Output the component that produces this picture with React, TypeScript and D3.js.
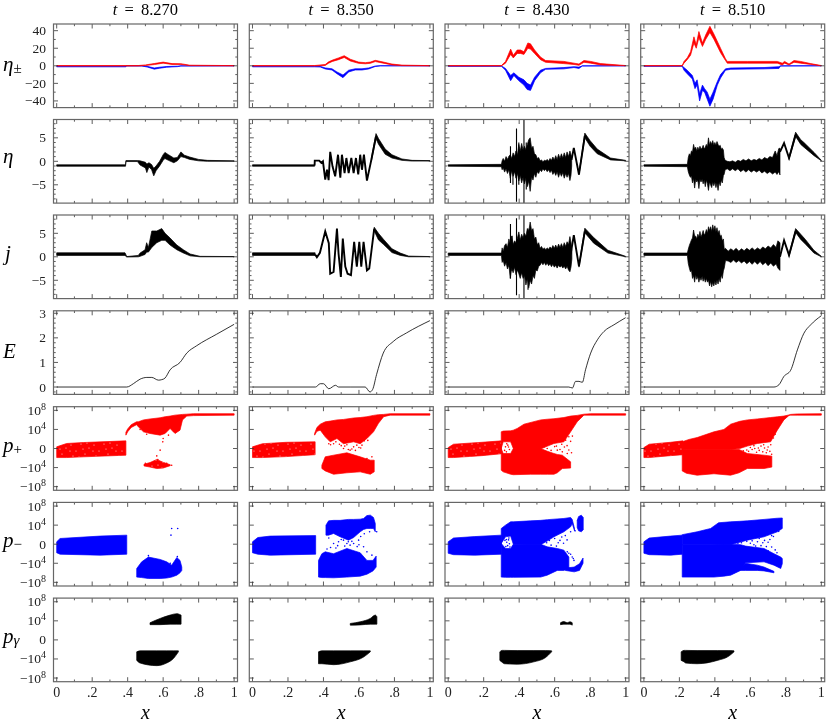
import React, { useEffect, useRef } from 'react';
import * as d3 from 'd3';

type Band = [number, number, number][];
type Pt = [number, number][];

const times = ['8.270', '8.350', '8.430', '8.510'];
const xMajor = [0, 0.2, 0.4, 0.6, 0.8, 1];
const xMinor = [0.1, 0.3, 0.5, 0.7, 0.9];
const xLabels = ['0', '.2', '.4', '.6', '.8', '1'];

// eta+- : [x, low, high]
const plus0: Band = [[0, -0.2, 0.3], [0.46, -0.2, 0.3], [0.5, 0.3, 1], [0.55, 1.4, 2.6], [0.6, 3, 4.2], [0.65, 1.5, 2.5], [0.7, 1.5, 2.4], [0.75, 0.2, 0.7], [1, -0.1, 0.2]];
const minus0: Band = [[0, -1.2, -0.6], [0.39, -1.2, -0.6], [0.392, -0.2, 0], [0.48, -0.2, 0], [0.51, -1.4, -0.6], [0.55, -3.8, -2.5], [0.58, -2.8, -1.6], [0.62, -1.6, -0.8], [0.68, -1, -0.4], [0.7, -0.3, 0], [1, -0.1, 0.1]];
const plus1: Band = [[0, -0.2, 0.3], [0.35, -0.2, 0.3], [0.41, 0.4, 1.5], [0.429, 3, 4.5], [0.451, 5, 6.5], [0.485, 7, 9], [0.517, 9.5, 11.5], [0.551, 5.5, 7.5], [0.598, 2.8, 4.2], [0.636, 2.3, 3.6], [0.664, 2.8, 4.2], [0.692, 4.8, 6.2], [0.73, 3.3, 4.6], [0.786, 1, 2], [0.842, 0.2, 0.8], [1, -0.1, 0.2]];
const minus1: Band = [[0, -1.2, -0.5], [0.35, -1.2, -0.5], [0.382, -1.4, -0.6], [0.41, -3.6, -2.4], [0.448, -4.8, -3.4], [0.476, -9, -7], [0.51, -13.5, -10.5], [0.542, -7, -5], [0.579, -4.8, -3.4], [0.617, -4.8, -3.4], [0.655, -3.6, -2.4], [0.692, -0.8, -0.2], [0.72, -0.1, 0.1], [1, -0.1, 0.1]];
const plus2: Band = [[0, -0.1, 0.2], [0.3, -0.1, 0.2], [0.323, 3, 5], [0.352, 13, 19], [0.367, 9, 12], [0.389, 14, 18], [0.408, 14, 18], [0.427, 13, 16], [0.449, 20, 26], [0.464, 19, 25], [0.487, 14, 18], [0.52, 7, 10], [0.549, 4, 6], [0.652, 2.5, 5], [0.709, 1.5, 3], [0.737, 0.5, 2], [0.765, 4, 6], [0.803, 3, 5], [0.859, 1, 2.5], [1, 0, 0.3]];
const minus2: Band = [[0, -0.5, -0.2], [0.3, -0.5, -0.2], [0.323, -5, -3], [0.352, -17, -11], [0.37, -11, -8], [0.398, -17, -13], [0.427, -22, -16], [0.445, -27, -20], [0.464, -28, -22], [0.487, -17, -13], [0.52, -8, -5], [0.549, -4, -3], [0.652, -3.5, -2], [0.709, -2, -1], [0.737, -3, -1.5], [0.756, -0.3, 0], [1, -0.1, 0.1]];
const plus3: Band = [[0, -0.1, 0.2], [0.216, -0.1, 0.2], [0.226, 3, 5], [0.244, 7, 9], [0.263, 12, 16], [0.282, 26, 33], [0.295, 20, 24], [0.31, 32, 39], [0.33, 22, 26], [0.348, 30, 35], [0.372, 38, 45], [0.395, 30, 36], [0.432, 15, 20], [0.46, 6, 8], [0.47, 3, 5], [0.583, 3, 5], [0.752, 3, 5], [0.78, 1, 3], [0.793, 3, 5], [0.818, 1, 2], [0.846, 4, 6], [0.883, 3, 5], [0.94, 1.5, 2.5], [1, 0, 0.3]];
const minus3: Band = [[0, -0.5, -0.2], [0.216, -0.5, -0.2], [0.226, -5, -2], [0.244, -9, -5], [0.273, -15, -11], [0.288, -26, -20], [0.3, -22, -16], [0.314, -40, -32], [0.33, -28, -22], [0.342, -30, -26], [0.357, -38, -30], [0.372, -46, -38], [0.39, -38, -30], [0.414, -22, -18], [0.432, -14, -10], [0.46, -5, -3.5], [0.49, -4, -2.5], [0.677, -3.5, -2], [0.761, -3, -1], [0.77, -0.3, 0], [1, -0.1, 0.1]];

// eta
const etaBand0: Band = [[0, -1.05, -0.75], [0.388, -1.05, -0.75], [0.39, -0.05, 0.15], [0.455, -0.05, 0.15], [0.47, -0.8, 0.1], [0.5, -1.4, -0.2], [0.508, -2.4, -0.6], [0.52, -1.2, -0.3], [0.535, -1.8, -0.7], [0.547, -3.1, -1.5], [0.56, -2, -1], [0.58, -1, 0], [0.6, 0.2, 1.4], [0.61, 0.6, 1.9], [0.63, 0.2, 1.4], [0.66, -0.3, 0.7], [0.68, 0.1, 0.8], [0.7, 1, 2], [0.72, 0.8, 1.3], [0.75, 0.4, 0.9], [0.8, 0.1, 0.4], [0.85, 0, 0.2], [1, 0, 0.1]];
const etaBase1: Band = [[0, -1.05, -0.75], [0.35, -1.05, -0.75]];
const etaLine1: Pt = [[0.35, -0.9], [0.351, 0.14], [0.376, 0.14], [0.388, -0.35], [0.397, 0], [0.41, -3.9], [0.42, -1.8], [0.429, -4], [0.438, 2], [0.451, -1.06], [0.466, -3.2], [0.482, 1.4], [0.495, -3.5], [0.504, 1.4], [0.519, -2.5], [0.529, 0.7], [0.542, -2.5], [0.557, 0.7], [0.57, -2.5], [0.583, 0.7], [0.596, -2.8], [0.607, 1.4], [0.617, -1.8], [0.628, 1.4], [0.645, -4.1], [0.67, 0.35], [0.696, 5.3]];
const etaTail1: Band = [[0.67, 0, 0.7], [0.696, 4.8, 5.9], [0.711, 3.6, 4.8], [0.748, 1.5, 2.6], [0.786, 0.7, 1.4], [0.842, 0.2, 0.5], [0.9, 0.05, 0.2], [1, 0.05, 0.15]];
const etaBand2: Band = [[0, -1.05, -0.75], [0.3, -1.15, -0.65], [0.304, -1.8, 0.1], [0.31, -1.4, 0.6], [0.318, -2.3, 0], [0.326, -1.6, 1], [0.334, -2.6, 0.4], [0.342, -1.8, 1.1], [0.35, -3.6, 1.4], [0.358, -2, 0.6], [0.366, -3.2, 1.8], [0.374, -2.2, 1], [0.382, -3.6, 2.2], [0.39, -2.6, 1.4], [0.398, -4.2, 3.6], [0.406, -3, 2.2], [0.414, -4.6, 3.8], [0.422, -3.4, 2.4], [0.43, -4.8, 3.2], [0.438, -3.6, 2.4], [0.446, -5.4, 3.6], [0.454, -4.2, 4.6], [0.462, -6.4, 5], [0.47, -3.4, 2.8], [0.478, -4, 3.2], [0.486, -2.6, 1.6], [0.494, -3.4, 1.4], [0.502, -2.2, 0.6], [0.51, -2.6, 0.8], [0.518, -1.8, 0.1], [0.526, -2.2, 0.3], [0.534, -1.6, -0.1], [0.542, -2, 0.2], [0.55, -1.7, 0.1], [0.558, -2.2, 0.4], [0.566, -1.8, 0], [0.574, -2.4, 0.6], [0.582, -1.9, 0.2], [0.59, -2.8, 0.9], [0.598, -2.2, 0.3], [0.606, -3, 1.2], [0.614, -2.2, 0.4], [0.622, -3.4, 1.5], [0.63, -2.4, 0.6], [0.638, -3.2, 1.6], [0.646, -2.4, 0.7], [0.654, -3.6, 1.8], [0.662, -2.6, 0.8], [0.67, -3.4, 2], [0.678, -2.6, 1], [0.686, -4.1, 2.2], [0.692, -3, 1.4], [0.696, -1, 1]];
const etaSpikes2: Band = [[0.351, -4.6, 3.2], [0.365, -5, 1], [0.385, -8.6, 7], [0.398, -5, 4], [0.427, -8.9, 8.9], [0.44, -6, 4]];
const etaLine2: Pt = [[0.695, 0.3], [0.708, 2.85], [0.737, -2.8], [0.77, 5.4]];
const etaTail2: Band = [[0.737, -2.9, -2.5], [0.77, 5, 6], [0.8, 3.2, 4.4], [0.84, 1.6, 2.6], [0.915, 0.3, 0.7], [1, 0.1, 0.2]];
const etaBand3: Band = [[0, -1.05, -0.75], [0.245, -1.15, -0.65], [0.25, -2.2, 0.8], [0.256, -2.9, 1.6], [0.262, -3.4, 1.2], [0.268, -3.2, 2.2], [0.274, -4.6, 2], [0.28, -3.6, 3.6], [0.286, -5.7, 2.6], [0.292, -3.8, 3], [0.298, -4.4, 2.2], [0.304, -4, 3], [0.31, -5.8, 2.4], [0.316, -3.8, 3.2], [0.322, -4.4, 2.6], [0.328, -3.8, 2.8], [0.334, -4.8, 3.4], [0.34, -4, 2.6], [0.346, -5.4, 3], [0.352, -4, 3.6], [0.358, -4.8, 3], [0.364, -6.2, 5], [0.37, -4.4, 3.4], [0.376, -5, 4.2], [0.382, -5.6, 3.6], [0.388, -4.4, 4.4], [0.394, -5.2, 3.4], [0.4, -4.4, 4], [0.406, -5.6, 3.4], [0.412, -4.6, 4.2], [0.418, -6.2, 3.6], [0.424, -4.4, 3.2], [0.43, -5.2, 3.4], [0.436, -4, 2.6], [0.442, -4.6, 2.8], [0.448, -3, 2.4], [0.452, -2.8, 0.8], [0.458, -1.8, 0.2], [0.47, -1.6, 0], [0.485, -2, -0.1], [0.5, -1.6, 0.1], [0.515, -2, -0.2], [0.53, -1.6, 0.2], [0.545, -2.2, 0], [0.56, -1.8, 0.4], [0.575, -2.3, 0.1], [0.59, -1.8, 0.5], [0.605, -2.3, 0.1], [0.62, -1.9, 0.4], [0.635, -2.3, 0.2], [0.65, -1.9, 0.6], [0.665, -2.5, 0.3], [0.68, -2.1, 0.8], [0.695, -2.6, 0.5], [0.71, -2.2, 1], [0.725, -2.7, 0.8], [0.74, -2.3, 2.2], [0.75, -2.8, 1.2], [0.76, -2.2, 2.7], [0.767, -2.9, 2.8]];
const etaLine3: Pt = [[0.767, 2], [0.79, 3.9], [0.818, 0.7], [0.855, 5.6]];
const etaTail3: Band = [[0.818, 0.4, 0.9], [0.855, 5.3, 6.2], [0.884, 3.6, 4.6], [0.902, 3, 4], [0.959, 1.2, 1.9], [1, 0.1, 0.2]];

// j
const jBand0: Band = [[0, 0.3, 0.85], [0.385, 0.3, 0.85], [0.395, -0.05, 0.05], [0.46, 0, 0.3], [0.47, 0.1, 0.8], [0.498, 0.5, 1.5], [0.507, 1, 3], [0.517, 1, 2], [0.536, 2, 5.5], [0.564, 3, 5.5], [0.592, 3.5, 6], [0.611, 3.5, 5], [0.639, 2.5, 4], [0.677, 1.5, 2.5], [0.714, 0.8, 1.5], [0.752, 0.2, 0.6], [0.808, 0, 0.1], [1, 0, 0.05]];
const jBase1: Band = [[0, 0.3, 0.85], [0.353, 0.3, 0.85]];
const jLine1: Pt = [[0.353, 0.5], [0.363, -0.1], [0.38, 0.85], [0.41, 5.4], [0.43, 2.9], [0.438, -3.6], [0.457, -3.2], [0.476, 6], [0.485, 0.7], [0.498, -4.3], [0.509, 3.9], [0.523, -2.1], [0.536, -3.6], [0.555, -3.9], [0.573, 3.2], [0.588, -2.1], [0.602, 3.2], [0.613, -2.1], [0.626, 3.2], [0.645, -2.9], [0.658, -2.5], [0.686, 6]];
const jTail1: Band = [[0.686, 5.5, 6.3], [0.71, 3.6, 5], [0.739, 2.6, 3.7], [0.786, 0.9, 1.7], [0.833, 0.3, 0.8], [0.88, 0, 0.15], [1, 0, 0.05]];
const jBand2: Band = [[0, 0.3, 0.8], [0.3, 0.3, 0.8], [0.304, -1.2, 1.9], [0.31, -0.8, 1.2], [0.318, -2, 2.4], [0.326, -1.2, 2.8], [0.334, -2.6, 2], [0.342, -1.8, 3.8], [0.35, -4.6, 2.8], [0.358, -2.4, 4.4], [0.366, -3.4, 2.6], [0.374, -2.2, 3.4], [0.382, -3.8, 3], [0.39, -2.8, 4], [0.398, -3.6, 5.3], [0.406, -4.6, 3.6], [0.414, -3.4, 4.8], [0.422, -4.6, 4], [0.43, -4, 5], [0.438, -6, 4.4], [0.446, -4.6, 6], [0.454, -6.6, 5.4], [0.462, -5, 7.4], [0.47, -5.8, 5.6], [0.478, -4, 6], [0.486, -4.6, 3.8], [0.494, -2.8, 4.2], [0.502, -3, 2.6], [0.51, -2, 3], [0.518, -1.8, 1.8], [0.526, -1.2, 2.2], [0.534, -1.7, 1.6], [0.542, -1.2, 1.9], [0.55, -1.8, 1.5], [0.558, -1.3, 1.9], [0.566, -1.9, 1.6], [0.574, -1.5, 2.1], [0.582, -2.1, 1.7], [0.59, -1.6, 2.4], [0.598, -2.2, 1.8], [0.606, -1.8, 2.5], [0.614, -2.4, 1.8], [0.622, -1.8, 2.7], [0.63, -2.2, 2], [0.638, -1.9, 2.8], [0.646, -2.4, 2], [0.654, -2, 3], [0.662, -2.6, 2.2], [0.67, -2, 3.2], [0.678, -2.8, 2.6], [0.686, -3.2, 4.3], [0.692, -2.2, 3], [0.697, -0.5, 1.5]];
const jSpikes2: Band = [[0.351, -4.6, 7], [0.385, -8.2, 8.2], [0.427, -8.9, 8.9], [0.36, -3, 4.5], [0.45, -7, 6]];
const jLine2: Pt = [[0.69, 0.5], [0.708, 4.6], [0.737, -2], [0.77, 5.4]];
const jTail2: Band = [[0.737, -2.2, -1.8], [0.77, 5.1, 6.1], [0.82, 2.9, 4.1], [0.9, 0.8, 1.4], [1, 0, 0.1]];
const jBand3: Band = [[0, 0.3, 0.8], [0.245, 0.3, 0.8], [0.25, -1.4, 1.6], [0.256, -2.4, 2.4], [0.262, -3.2, 3], [0.268, -2.8, 3.6], [0.274, -4.6, 4], [0.28, -4, 5.7], [0.286, -5.4, 4.4], [0.292, -3.8, 4.4], [0.298, -4.8, 3.8], [0.304, -4.2, 4.8], [0.31, -5.4, 4.2], [0.316, -4.4, 5.4], [0.322, -5, 4.2], [0.328, -4.2, 4.8], [0.334, -5.2, 5.6], [0.34, -4.4, 4.6], [0.346, -5.4, 5], [0.352, -4.6, 5.8], [0.358, -5.4, 5], [0.364, -5, 6.4], [0.37, -6.2, 5.6], [0.376, -5.2, 6.4], [0.382, -6.4, 5.4], [0.388, -5.4, 6.8], [0.394, -6.2, 5.6], [0.4, -5.2, 6.6], [0.406, -6, 5.4], [0.412, -5, 6.2], [0.418, -5.8, 5], [0.424, -4.6, 5.6], [0.43, -5.4, 4.4], [0.436, -3.8, 4.6], [0.442, -4.6, 3.4], [0.448, -3, 3.8], [0.453, -2.4, 1.6], [0.46, -0.8, 1.8], [0.475, -0.9, 1.2], [0.49, -1.2, 1.7], [0.505, -0.7, 1.3], [0.52, -1.2, 1.8], [0.535, -0.8, 1.2], [0.55, -1.3, 1.7], [0.565, -0.9, 1.3], [0.58, -1.5, 1.8], [0.595, -1, 1.4], [0.61, -1.6, 1.9], [0.625, -1, 1.4], [0.64, -1.6, 1.9], [0.655, -1, 1.5], [0.67, -1.7, 2.1], [0.685, -1.2, 1.7], [0.7, -1.9, 2.3], [0.715, -1.3, 1.9], [0.73, -2, 2.6], [0.745, -1.5, 2], [0.755, -2.4, 3.4], [0.767, -2.9, 3]];
const jLine3: Pt = [[0.767, 0], [0.79, 3.5], [0.818, 0.35], [0.855, 5.4]];
const jTail3: Band = [[0.818, 0.1, 0.6], [0.855, 5.2, 6], [0.884, 3.7, 4.8], [0.91, 2.7, 3.7], [0.958, 0.8, 1.4], [1, 0, 0.1]];

// E
const field0: Pt = [[0, 0], [0.395, 0], [0.432, 0.135], [0.47, 0.32], [0.508, 0.39], [0.536, 0.39], [0.573, 0.28], [0.592, 0.3], [0.61, 0.36], [0.639, 0.7], [0.695, 1], [0.733, 1.38], [0.789, 1.68], [0.902, 2.15], [1, 2.55]];
const field1: Pt = [[0, 0], [0.355, 0], [0.382, 0.135], [0.4, 0.135], [0.43, -0.07], [0.468, 0.07], [0.485, 0], [0.55, 0], [0.635, 0], [0.662, -0.2], [0.677, -0.1], [0.699, 0.5], [0.737, 1.38], [0.793, 1.85], [0.868, 2.2], [1, 2.7]];
const field2: Pt = [[0, 0], [0.68, 0], [0.7, -0.04], [0.718, 0.23], [0.737, 0.23], [0.756, 0.19], [0.774, 0.7], [0.803, 1.38], [0.841, 1.92], [0.878, 2.26], [0.934, 2.53], [1, 2.82]];
const field3: Pt = [[0, 0], [0.733, 0], [0.761, 0.09], [0.789, 0.43], [0.827, 0.68], [0.865, 1.51], [0.902, 2.19], [0.94, 2.53], [1, 2.9]];

// p clouds: [x, low, high], low/high as signed log10 |p|
const pPlusA0: Band = [[0, -1.9, 0.35], [0.056, -1.9, 1.05], [0.15, -1.75, 1.25], [0.39, -1.4, 1.6]];
const pPlusU0: Band = [[0.39, 2.8, 3.4], [0.4, 3.5, 4.1], [0.42, 4.4, 5], [0.45, 5, 5.6], [0.46, 4.55, 5.6], [0.489, 3.5, 6], [0.526, 3.15, 6.2], [0.583, 2.8, 6.45], [0.611, 3.15, 6.67], [0.639, 4.2, 6.8], [0.667, 3.15, 7], [0.695, 3.85, 7.1], [0.709, 6, 7.15], [0.733, 6.8, 7.2], [0.771, 6.9, 7.3], [1, 7, 7.3]];
const pPlusL0: Band = [[0.492, -3.65, -3.3], [0.526, -3.9, -2.95], [0.564, -4.2, -2.3], [0.6, -4.1, -2.9], [0.64, -3.6, -3.4]];
const pPlusDots0: Pt = [[0.583, -0.35], [0.564, -1.55], [0.57, -2.3], [0.6, 2.1], [0.598, 1.4], [0.47, 4], [0.507, 3], [0.63, 2.8], [0.648, -3.5], [0.658, 3.7], [0.5, -3.1], [0.62, -3.1]];
const pPlusA1: Band = [[0, -1.9, 0.35], [0.056, -1.9, 1], [0.19, -1.7, 1.3], [0.353, -1.3, 1.4]];
const pPlusU1: Band = [[0.35, 2.8, 3.15], [0.363, 3.6, 4.4], [0.382, 3.85, 5.1], [0.41, 2.45, 5.6], [0.438, 1.4, 5.75], [0.476, 2.1, 6], [0.513, 1, 6.1], [0.57, 1.4, 6.4], [0.607, 1, 6.5], [0.645, 2.1, 6.67], [0.682, 3.5, 6.95], [0.71, 5.3, 7.1], [0.739, 6.67, 7.15], [0.776, 7, 7.3], [1, 7, 7.3]];
const pPlusL1: Band = [[0.391, -4.2, -3.5], [0.41, -4.7, -1.75], [0.457, -5.4, -1.4], [0.532, -5.1, -0.9], [0.607, -4.9, -1.75], [0.664, -5.4, -2.45], [0.686, -4.9, -2.45]];
const pPlusDots1: Pt = [[0.513, 0], [0.532, 0.8], [0.57, 0.35], [0.55, -0.35], [0.588, 0.7], [0.43, 1], [0.457, 1], [0.617, 0.7], [0.673, -1.75], [0.645, -2.1], [0.52, 0.5], [0.6, 0.2], [0.56, -0.1], [0.49, 0.9], [0.5, 0.6], [0.54, -0.2], [0.58, -0.4], [0.61, 0.1], [0.63, 1.6], [0.65, 1.7], [0.47, 1.4], [0.44, 0.8]];
const pPlusA2: Band = [[0, -1.9, 0.2], [0.03, -1.9, 0.9], [0.19, -1.5, 1.3], [0.3, -1.1, 1.6]];
const pPlusU2: Band = [[0.299, 0, 3.5], [0.31, 1.4, 3.65], [0.352, 1.4, 3.7], [0.367, 0, 3.85], [0.389, -0.1, 4.2], [0.427, -0.1, 5.1], [0.521, -0.1, 6], [0.56, 0.5, 6.15], [0.596, 1.05, 6.25], [0.652, 1.4, 6.5], [0.69, 3.5, 6.8], [0.727, 5.6, 6.95], [0.765, 7, 7.2], [0.803, 7, 7.3], [1, 7, 7.3]];
const pPlusL2: Band = [[0.299, -4.55, 0], [0.31, -4.9, -1.05], [0.352, -5.4, -1.05], [0.367, -5.5, 0], [0.464, -5.4, 0], [0.521, -5.4, 0], [0.56, -5.4, -0.6], [0.596, -5.4, -1.05], [0.615, -5.1, -1.25], [0.643, -4.2, -1.4], [0.69, -4.1, -2.8]];
const pPlusDots2: Pt = [[0.54, 0.35], [0.558, 0], [0.615, -0.35], [0.643, -0.7], [0.671, -1.05], [0.662, 1.75], [0.68, 2.45], [0.323, 0.35], [0.336, 0.7], [0.6, 0.4], [0.64, 0.9], [0.67, 0.6], [0.69, 1.5], [0.7, 2.6], [0.58, -0.4], [0.61, 0.5], [0.63, -0.2], [0.655, 0.3], [0.68, -0.3], [0.695, -0.9], [0.318, -0.4], [0.328, -0.7], [0.345, -0.2], [0.34, 0.3], [0.33, 1]];
const pPlusA3: Band = [[0, -1.9, 0.2], [0.03, -1.9, 0.9], [0.15, -1.5, 1.3], [0.22, -1.3, 1.6]];
const pPlusU3: Band = [[0.216, -0.2, 1.4], [0.254, -0.2, 1.9], [0.3, -0.2, 2.3], [0.395, -0.2, 3.5], [0.451, -0.2, 4], [0.489, -0.2, 5.1], [0.54, 0, 5.7], [0.583, 0.5, 6], [0.639, 1.05, 6.2], [0.714, 1.4, 6.5], [0.752, 3.85, 6.65], [0.789, 6, 6.8], [0.818, 6.95, 7.05], [0.827, 7, 7.15], [0.865, 7, 7.25], [1, 7, 7.3]];
const pPlusL3: Band = [[0.216, -4.7, -0.2], [0.24, -5.2, -0.2], [0.3, -5.6, -0.2], [0.395, -5.3, -0.2], [0.489, -5.6, -0.2], [0.536, -5.1, -0.2], [0.583, -4.2, -1.05], [0.677, -4.2, -1.4], [0.721, -3.9, -1.6]];
const pPlusDots3: Pt = [[0.53, 0.4], [0.55, 0.3], [0.6, 0.2], [0.62, 0.6], [0.65, -0.4], [0.67, -0.7], [0.69, -0.9], [0.7, 0.3], [0.71, -0.6], [0.66, 0.5], [0.58, -0.3], [0.72, -1.2], [0.635, -0.8], [0.68, 0.1], [0.59, -0.6], [0.61, -0.2], [0.645, 0.1], [0.675, 0.8], [0.695, -0.3], [0.715, 0.8], [0.56, -0.5], [0.625, 0], [0.73, 2.2], [0.74, 3]];

const pMinusA0: Band = [[0, -1.8, 0.5], [0.019, -2.1, 1.2], [0.244, -2.3, 1.7], [0.395, -2.1, 1.9]];
const pMinusL0: Band = [[0.451, -6.9, -5.1], [0.479, -7, -3.7], [0.517, -7.2, -2.7], [0.583, -7.2, -3.2], [0.62, -7.1, -3.7], [0.648, -6.9, -4.4], [0.677, -6.5, -2.8], [0.695, -6, -3.4], [0.705, -5.5, -4.8]];
const pMinusDots0: Pt = [[0.648, 3.3], [0.682, 3.3], [0.644, 1.9], [0.517, -2.4], [0.68, -2.6], [0.64, -4]];
const pMinusA1: Band = [[0, -1.8, 0.5], [0.03, -2.1, 1.4], [0.1, -2.3, 1.7], [0.356, -2.1, 1.8]];
const pMinusU1: Band = [[0.414, 1.9, 4], [0.429, 1.9, 4.9], [0.457, 2.25, 5], [0.494, 1.55, 5], [0.541, 0.85, 5.2], [0.57, 1.4, 5.2], [0.607, 2.6, 5.25], [0.626, 3.1, 5.4], [0.645, 3.3, 6], [0.664, 3.3, 6.1], [0.682, 3.3, 5.6], [0.692, 2.6, 4.35]];
const pMinusL1: Band = [[0.372, -6.9, -3.4], [0.391, -7, -2], [0.41, -7, -1.6], [0.457, -7.05, -2], [0.532, -6.9, -0.9], [0.607, -6.7, -1.8], [0.645, -6.3, -3.4], [0.679, -5.6, -3.4], [0.697, -4.8, -2.5]];
const pMinusDots1: Pt = [[0.457, 0.15], [0.485, 0.5], [0.513, 0.85], [0.532, 0.15], [0.55, -0.2], [0.57, 0.15], [0.598, 0.85], [0.626, -0.55], [0.645, -1.6], [0.673, -2.3], [0.7, 2.6], [0.47, -0.8], [0.52, -0.4], [0.59, -0.5], [0.43, 1.3], [0.61, 1.6], [0.44, -0.7], [0.66, 2.6], [0.5, 1], [0.56, 0.6], [0.54, 0.5], [0.48, -0.3], [0.6, -0.1], [0.63, 2.2], [0.42, -1]];
const pMinusA2: Band = [[0, -1.9, 0.5], [0.03, -2.2, 1.3], [0.15, -2.3, 1.6], [0.3, -2.1, 1.9]];
const pMinusU2: Band = [[0.299, 0.15, 3.3], [0.323, 1.55, 4], [0.352, 1.7, 4.7], [0.367, 0, 4.7], [0.464, -0.1, 4.9], [0.521, -0.1, 5], [0.56, 0.7, 5.15], [0.596, 1.55, 5.25], [0.652, 2.6, 5.4], [0.69, 3.65, 5.6], [0.699, 4.35, 5.2], [0.712, 2.8, 3.3]];
const pMinusL2: Band = [[0.299, -6.9, 0.15], [0.323, -6.95, -0.9], [0.352, -6.95, -0.9], [0.367, -6.95, 0], [0.521, -6.9, 0], [0.558, -6.5, -0.55], [0.615, -5.5, -0.9], [0.652, -5.5, -1.25], [0.68, -5, -2.7]];
const pMinusArm2: Band = [[0.66, -5.5, -5], [0.71, -5.8, -4.8], [0.74, -5.5, -4.1], [0.76, -4, -2.9]];
const pMinusLobe2: Band = [[0.727, 3.5, 5], [0.735, 2.8, 5.8], [0.75, 2.6, 6.1], [0.761, 3, 5.6]];
const pMinusDots2: Pt = [[0.69, -2.1], [0.699, -2.7], [0.709, -3.4], [0.671, -1.6], [0.68, -1.9], [0.555, 0.3], [0.57, 0.8], [0.6, 1.2], [0.64, 1.5], [0.62, 0.3], [0.66, 1.8], [0.69, 2.6], [0.705, -3], [0.715, 2.8], [0.33, 0.4], [0.34, 0.9], [0.335, -0.3], [0.345, 0.1], [0.58, -0.2], [0.61, -0.4], [0.63, 0.8], [0.65, 0.2], [0.67, 0.9], [0.325, -0.5], [0.328, 1], [0.348, -0.6], [0.342, 1.3], [0.32, 0.8]];
const pMinusA3: Band = [[0, -1.9, 0.5], [0.03, -2.2, 1.3], [0.15, -2.3, 1.7], [0.216, -2.1, 1.9]];
const pMinusU3: Band = [[0.216, -0.1, 2], [0.3, -0.1, 2.6], [0.376, -0.1, 3.3], [0.421, -0.1, 4.5], [0.489, -0.1, 4.7], [0.54, 0.4, 4.8], [0.583, 0.85, 4.9], [0.677, 1.55, 5.2], [0.752, 2.6, 5.45], [0.78, 3.3, 5.5]];
const pMinusL3: Band = [[0.216, -6.9, -0.1], [0.395, -6.9, -0.1], [0.451, -6.7, 0], [0.489, -6.5, 0], [0.545, -5.5, -0.1], [0.573, -3.9, -0.4], [0.677, -3.7, -0.9], [0.733, -4.4, -2], [0.771, -5.1, -2.7], [0.78, -4.1, -3]];
const pMinusSliver3: Band = [[0.545, -5.5, -5], [0.573, -5.5, -4], [0.639, -5.5, -4.4], [0.677, -5.6, -4.8], [0.733, -6, -5.7]];
const pMinusDots3: Pt = [[0.53, 0.2], [0.55, 0.3], [0.58, 0.6], [0.6, 0.2], [0.62, -0.1], [0.64, 0.5], [0.66, -0.3], [0.68, 0.8], [0.7, 0.4], [0.72, -0.6], [0.74, -1.2], [0.7, -1.4], [0.76, 2.7], [0.65, 1.2], [0.72, 1.8], [0.61, 0.7], [0.63, -0.4], [0.67, 0.3], [0.69, -0.5], [0.71, 1], [0.73, 1.6], [0.75, -1.8]];

const pGammaU0: Band = [[0.526, 3.2, 3.6], [0.583, 3.2, 4.5], [0.639, 3.3, 5.2], [0.677, 3.3, 5.5], [0.701, 3.3, 5.2]];
const pGammaL0: Band = [[0.451, -4.3, -2.5], [0.47, -4.85, -2.3], [0.564, -5.4, -2.3], [0.62, -4.85, -2.3], [0.658, -3.9, -2.3], [0.686, -2.5, -2.3]];
const pGammaU1: Band = [[0.551, 3.1, 3.45], [0.607, 3.15, 3.8], [0.664, 3.3, 4.5], [0.692, 3.3, 5.2], [0.701, 3.3, 4.85]];
const pGammaL1: Band = [[0.372, -5, -2.5], [0.391, -5, -2.3], [0.457, -5.2, -2.3], [0.551, -4.6, -2.3], [0.626, -3.6, -2.3], [0.664, -2.5, -2.3]];
const pGammaU2: Band = [[0.633, 3.2, 3.6], [0.652, 3.3, 3.85], [0.671, 3.3, 3.6], [0.686, 3.3, 3.8], [0.699, 3.1, 3.6]];
const pGammaL2: Band = [[0.291, -4.3, -2.5], [0.304, -4.7, -2.2], [0.317, -5, -2.2], [0.389, -5.1, -2.25], [0.483, -4.6, -2.25], [0.549, -3.7, -2.25], [0.583, -2.5, -2.3]];
const pGammaL3: Band = [[0.21, -4.3, -2.5], [0.226, -4.6, -2.2], [0.235, -4.85, -2.2], [0.3, -5, -2.25], [0.414, -4.3, -2.25], [0.479, -3.4, -2.25], [0.508, -2.5, -2.3]];

// marks of each panel, row by row then column by column
const RED = '#ff0000';
const BLUE = '#0000ff';
const BLACK = '#000000';

interface Mark {
  kind: 'band' | 'sparse' | 'line' | 'thin' | 'spike' | 'dots';
  data: Band | Pt;
  color: string;
}
const m = (kind: Mark['kind'], color: string, data: Band | Pt): Mark => ({ kind, color, data });

const rowMarks: Mark[][][] = [
  [
    [m('band', BLUE, minus0), m('band', RED, plus0)],
    [m('band', BLUE, minus1), m('band', RED, plus1)],
    [m('band', BLUE, minus2), m('band', RED, plus2)],
    [m('band', BLUE, minus3), m('band', RED, plus3)],
  ],
  [
    [m('band', BLACK, etaBand0)],
    [m('band', BLACK, etaBase1), m('line', BLACK, etaLine1), m('band', BLACK, etaTail1)],
    [m('band', BLACK, etaBand2), m('spike', BLACK, etaSpikes2), m('line', BLACK, etaLine2), m('band', BLACK, etaTail2)],
    [m('band', BLACK, etaBand3), m('line', BLACK, etaLine3), m('band', BLACK, etaTail3)],
  ],
  [
    [m('band', BLACK, jBand0)],
    [m('band', BLACK, jBase1), m('line', BLACK, jLine1), m('band', BLACK, jTail1)],
    [m('band', BLACK, jBand2), m('spike', BLACK, jSpikes2), m('line', BLACK, jLine2), m('band', BLACK, jTail2)],
    [m('band', BLACK, jBand3), m('line', BLACK, jLine3), m('band', BLACK, jTail3)],
  ],
  [[m('thin', BLACK, field0)], [m('thin', BLACK, field1)], [m('thin', BLACK, field2)], [m('thin', BLACK, field3)]],
  [
    [m('sparse', RED, pPlusA0), m('band', RED, pPlusU0), m('sparse', RED, pPlusL0), m('dots', RED, pPlusDots0)],
    [m('sparse', RED, pPlusA1), m('band', RED, pPlusU1), m('band', RED, pPlusL1), m('dots', RED, pPlusDots1)],
    [m('sparse', RED, pPlusA2), m('band', RED, pPlusU2), m('band', RED, pPlusL2), m('dots', RED, pPlusDots2)],
    [m('sparse', RED, pPlusA3), m('band', RED, pPlusU3), m('band', RED, pPlusL3), m('dots', RED, pPlusDots3)],
  ],
  [
    [m('band', BLUE, pMinusA0), m('band', BLUE, pMinusL0), m('dots', BLUE, pMinusDots0)],
    [m('band', BLUE, pMinusA1), m('band', BLUE, pMinusU1), m('band', BLUE, pMinusL1), m('dots', BLUE, pMinusDots1)],
    [m('band', BLUE, pMinusA2), m('band', BLUE, pMinusU2), m('band', BLUE, pMinusL2), m('band', BLUE, pMinusArm2), m('band', BLUE, pMinusLobe2), m('dots', BLUE, pMinusDots2)],
    [m('band', BLUE, pMinusA3), m('band', BLUE, pMinusU3), m('band', BLUE, pMinusL3), m('band', BLUE, pMinusSliver3), m('dots', BLUE, pMinusDots3)],
  ],
  [
    [m('band', BLACK, pGammaU0), m('band', BLACK, pGammaL0)],
    [m('band', BLACK, pGammaU1), m('band', BLACK, pGammaL1)],
    [m('band', BLACK, pGammaU2), m('band', BLACK, pGammaL2)],
    [m('band', BLACK, pGammaL3)],
  ],
];

const panelLefts = [53.5, 249.3, 445, 640.7];
const panelTops = [24, 119.5, 215, 310.8, 406.7, 502.4, 598.1];
const panelW = 184;
const panelH = 83.6;

// signed log10 value back to p
const fromExp = (e: number) => Math.sign(e) * (10 ** Math.abs(e) - 1);
const pMajor = [-8, -4, 0, 4, 8];

interface RowSpec {
  label: string;
  sub?: string;
  labelDy: number;
  scale: (range: [number, number]) => any;
  major: number[];
  minor: number[];
  log?: boolean;
}

const rows: RowSpec[] = [
  { label: 'η', sub: '±', labelDy: 5, scale: (r) => d3.scaleLinear().domain([-47.6, 47.6]).range(r), major: [-40, -20, 0, 20, 40], minor: [-30, -10, 10, 30] },
  { label: 'η', labelDy: 2, scale: (r) => d3.scaleLinear().domain([-8.9, 8.9]).range(r), major: [-5, 0, 5], minor: [-8, -7, -6, -4, -3, -2, -1, 1, 2, 3, 4, 6, 7, 8] },
  { label: 'j', labelDy: 3, scale: (r) => d3.scaleLinear().domain([-8.9, 8.9]).range(r), major: [-5, 0, 5], minor: [-8, -7, -6, -4, -3, -2, -1, 1, 2, 3, 4, 6, 7, 8] },
  { label: 'E', labelDy: 5, scale: (r) => d3.scaleLinear().domain([-0.3, 3.1]).range(r), major: [0, 1, 2, 3], minor: [-0.2, 0.2, 0.4, 0.6, 0.8, 1.2, 1.4, 1.6, 1.8, 2.2, 2.4, 2.6, 2.8] },
  { label: 'p', sub: '+', labelDy: 3, scale: (r) => d3.scaleSymlog().constant(1).domain([fromExp(-8.77), fromExp(8.77)]).range(r), major: pMajor, minor: [], log: true },
  { label: 'p', sub: '−', labelDy: 3, scale: (r) => d3.scaleSymlog().constant(1).domain([fromExp(-8.77), fromExp(8.77)]).range(r), major: pMajor, minor: [], log: true },
  { label: 'p', sub: 'γ', labelDy: 3, scale: (r) => d3.scaleSymlog().constant(1).domain([fromExp(-8.77), fromExp(8.77)]).range(r), major: pMajor, minor: [], log: true },
];

const App: React.FC = () => {
  const ref = useRef<SVGSVGElement | null>(null);

  useEffect(() => {
    if (!ref.current) return;
    const svg = d3.select(ref.current);
    svg.selectAll('*').remove();
    svg.style('font-family', '"Liberation Serif", serif');

    // white flecks for the thin parts of the particle clouds
    const mottle = svg
      .append('defs')
      .append('pattern')
      .attr('id', 'mottle')
      .attr('patternUnits', 'userSpaceOnUse')
      .attr('width', 23)
      .attr('height', 17);
    [[2, 3], [7, 9], [12, 2], [16, 12], [20, 6], [4, 14], [10, 15], [18, 1], [14, 7], [1, 9]].forEach(([cx, cy]) => {
      mottle.append('circle').attr('cx', cx).attr('cy', cy).attr('r', 0.6).attr('fill', '#fff').attr('fill-opacity', 0.8);
    });

    rows.forEach((row, r) => {
      const top = panelTops[r];
      const rawY = row.scale([top + panelH, top]);
      const y = (v: number) => (row.log ? rawY(fromExp(v)) : rawY(v));

      panelLefts.forEach((left, c) => {
        const x = d3.scaleLinear().domain([-0.018, 1.019]).range([left, left + panelW]);
        const g = svg.append('g');
        const clipId = `clip-${r}-${c}`;
        g.append('clipPath').attr('id', clipId).append('rect').attr('x', left).attr('y', top).attr('width', panelW).attr('height', panelH);
        const plot = g.append('g').attr('clip-path', `url(#${clipId})`);

        rowMarks[r][c].forEach((mark) => {
          if (mark.kind === 'band' || mark.kind === 'sparse') {
            const area = d3
              .area<number[]>()
              .x((d) => x(d[0]))
              .y0((d) => y(d[1]))
              .y1((d) => y(d[2]));
            if (r === 6) area.curve(d3.curveMonotoneX);
            const d = area(mark.data as number[][]);
            plot
              .append('path')
              .attr('d', d)
              .attr('fill', mark.color)
              .attr('stroke', mark.color)
              .attr('stroke-width', 0.7);
            if (mark.kind === 'sparse') plot.append('path').attr('d', d).attr('fill', 'url(#mottle)');
          } else if (mark.kind === 'line' || mark.kind === 'thin') {
            const line = d3
              .line<number[]>()
              .x((d) => x(d[0]))
              .y((d) => y(d[1]));
            if (mark.kind === 'thin') line.curve(d3.curveMonotoneX);
            plot
              .append('path')
              .attr('d', line(mark.data as number[][]))
              .attr('fill', 'none')
              .attr('stroke', mark.color)
              .attr('stroke-width', mark.kind === 'thin' ? 0.8 : 1.9);
          } else if (mark.kind === 'spike') {
            plot
              .selectAll('line.s')
              .data(mark.data as number[][])
              .enter()
              .append('line')
              .attr('x1', (d) => x(d[0]))
              .attr('x2', (d) => x(d[0]))
              .attr('y1', (d) => y(d[1]))
              .attr('y2', (d) => y(d[2]))
              .attr('stroke', mark.color)
              .attr('stroke-width', 1.1);
          } else {
            plot
              .selectAll('circle.d')
              .data(mark.data as number[][])
              .enter()
              .append('circle')
              .attr('cx', (d) => x(d[0]))
              .attr('cy', (d) => y(d[1]))
              .attr('r', 0.8)
              .attr('fill', mark.color);
          }
        });

        // inward ticks on all four sides
        const tickGroup = g.append('g').attr('stroke', '#333').attr('stroke-width', 0.8);
        const vTick = (v: number, len: number) => {
          tickGroup.append('line').attr('x1', x(v)).attr('x2', x(v)).attr('y1', top).attr('y2', top + len);
          tickGroup.append('line').attr('x1', x(v)).attr('x2', x(v)).attr('y1', top + panelH).attr('y2', top + panelH - len);
        };
        const hTick = (v: number, len: number) => {
          tickGroup.append('line').attr('x1', left).attr('x2', left + len).attr('y1', y(v)).attr('y2', y(v));
          tickGroup.append('line').attr('x1', left + panelW).attr('x2', left + panelW - len).attr('y1', y(v)).attr('y2', y(v));
        };
        xMajor.forEach((v) => vTick(v, 4.5));
        xMinor.forEach((v) => vTick(v, 2.2));
        row.major.forEach((v) => hTick(v, 4.5));
        row.minor.forEach((v) => hTick(v, 2.2));

        g.append('rect')
          .attr('x', left)
          .attr('y', top)
          .attr('width', panelW)
          .attr('height', panelH)
          .attr('fill', 'none')
          .attr('stroke', '#666')
          .attr('stroke-width', 1.2);

        // x tick labels and x title on the last row
        if (r === rows.length - 1) {
          xMajor.forEach((v, i) => {
            g.append('text')
              .attr('x', x(v))
              .attr('y', 697)
              .attr('text-anchor', 'middle')
              .attr('font-size', 14)
              .attr('fill', '#222')
              .text(xLabels[i]);
          });
          g.append('text')
            .attr('x', x(0.5))
            .attr('y', 719)
            .attr('text-anchor', 'middle')
            .attr('font-size', 20)
            .attr('font-style', 'italic')
            .text('x');
        }
        if (r === 0) {
          const title = g
            .append('text')
            .attr('x', x(0.5))
            .attr('y', 15)
            .attr('text-anchor', 'middle')
            .attr('font-size', 16.5)
            .attr('word-spacing', 3);
          title.append('tspan').attr('font-style', 'italic').text('t');
          title.append('tspan').text(` = ${times[c]}`);
        }
      });

      // y tick labels of the first column only
      row.major.forEach((v) => {
        const label = svg
          .append('text')
          .attr('x', 46)
          .attr('y', y(v) + 4.5)
          .attr('text-anchor', 'end')
          .attr('font-size', 13.5)
          .attr('fill', '#222');
        if (row.log && v !== 0) {
          label.append('tspan').text(`${v < 0 ? '−' : ''}10`);
          label.append('tspan').attr('dy', -5).attr('font-size', 10).text(String(Math.abs(v)));
        } else {
          label.text(v < 0 ? `−${Math.abs(v)}` : String(v));
        }
      });

      // row label
      const mid = top + panelH / 2 + row.labelDy;
      const title = svg.append('text').attr('x', row.label === 'j' ? 5 : 3).attr('y', mid).attr('font-size', 21).attr('font-style', 'italic');
      title.append('tspan').text(row.label);
      if (row.sub) {
        title
          .append('tspan')
          .attr('dy', 2)
          .attr('font-size', 15)
          .attr('font-style', row.sub === 'γ' ? 'italic' : 'normal')
          .text(row.sub);
      }
    });
  }, []);

  return <svg ref={ref} width={830} height={723} style={{ position: 'absolute', left: 0, top: 0, background: '#fff', filter: 'blur(0.35px)' }}></svg>;
};

export default App;
